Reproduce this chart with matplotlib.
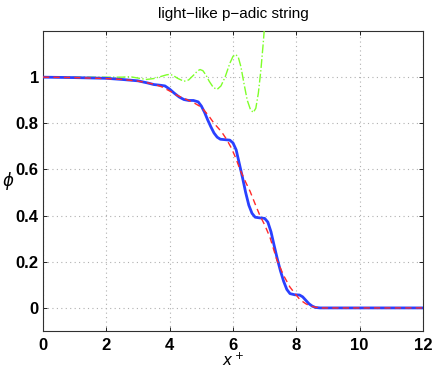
import matplotlib
matplotlib.use("Agg")
import matplotlib.pyplot as plt
from matplotlib.ticker import FuncFormatter

# ---- data ----
blue_x = [0, 1, 2, 2.5, 3, 3.3, 3.5, 3.7, 3.85, 4.0, 4.15, 4.3, 4.45, 4.6, 4.75, 4.9,
          5.0, 5.1, 5.2, 5.3, 5.4, 5.5, 5.6, 5.75, 5.9, 6.0, 6.1, 6.2, 6.3, 6.4, 6.5,
          6.6, 6.7, 6.85, 7.0, 7.1, 7.2, 7.3, 7.4, 7.5, 7.6, 7.7, 7.8, 7.95, 8.1, 8.2,
          8.3, 8.4, 8.5, 8.6, 8.75, 9, 10, 11, 12]
blue_y = [1.0, 0.998, 0.995, 0.99, 0.984, 0.975, 0.968, 0.965, 0.962, 0.948, 0.93, 0.914,
          0.903, 0.899, 0.899, 0.893, 0.875, 0.848, 0.815, 0.785, 0.758, 0.740, 0.731,
          0.729, 0.727, 0.715, 0.685, 0.625, 0.565, 0.5, 0.445, 0.41, 0.393, 0.39, 0.388,
          0.372, 0.33, 0.27, 0.212, 0.16, 0.115, 0.08, 0.062, 0.057, 0.056, 0.048, 0.033,
          0.018, 0.008, 0.002, 0.0, 0.0, 0.0, 0.0, 0.0]

red_x = [0, 1, 2, 2.5, 3, 3.5, 3.75, 4.0, 4.25, 4.5, 4.75, 5.0, 5.22, 5.4, 5.64, 5.8,
         5.96, 6.1, 6.22, 6.4, 6.54, 6.7, 6.85, 7.0, 7.17, 7.38, 7.6, 7.8, 8.0, 8.12,
         8.3, 8.43, 8.6, 8.8, 9, 12]
red_y = [1.0, 0.998, 0.994, 0.99, 0.983, 0.97, 0.958, 0.94, 0.92, 0.905, 0.89, 0.87,
         0.835, 0.80, 0.763, 0.73, 0.69, 0.645, 0.6, 0.545, 0.505, 0.45, 0.4, 0.36,
         0.305, 0.21, 0.14, 0.09, 0.055, 0.035, 0.018, 0.009, 0.003, 0.0, 0.0, 0.0]

green_x = [0, 1, 2, 2.5, 2.75, 3.0, 3.27, 3.5, 3.75, 3.9, 4.0, 4.1, 4.25, 4.45, 4.6, 4.75,
           4.88, 4.96, 5.05, 5.15, 5.25, 5.38, 5.5, 5.62, 5.75, 5.9, 6.0, 6.09, 6.17,
           6.25, 6.35, 6.45, 6.55, 6.64, 6.72, 6.8, 6.88, 6.95, 7.02, 7.1]
green_y = [1.0, 1.0, 1.0, 1.0, 1.002, 0.996, 0.99, 0.994, 1.004, 1.01, 1.012, 1.008,
           0.995, 0.982, 0.988, 1.008, 1.027, 1.033, 1.028, 1.008, 0.982, 0.955, 0.947,
           0.962, 1.0, 1.06, 1.09, 1.098, 1.085, 1.045, 0.97, 0.9, 0.86, 0.847, 0.865,
           0.93, 1.03, 1.14, 1.26, 1.4]

x_ticks = [0, 2, 4, 6, 8, 10, 12]
y_ticks = [0, 0.2, 0.4, 0.6, 0.8, 1.0]
title = "light\u2212like p\u2212adic string"

# ---- figure ----
fig = plt.figure(figsize=(4.36, 3.70), dpi=100)
ax = fig.add_axes([43/436, 39/370, 380/436, 300/370])

ax.plot(green_x, green_y, linestyle='-.', color='#7fff2a', linewidth=1.0, zorder=3)
ax.plot(blue_x, blue_y, linestyle='-', color='#2a40ff', linewidth=2.0, zorder=4)
ax.plot(red_x, red_y, linestyle=(0, (4.5, 3)), color='#ff2a2a', linewidth=1.0, zorder=5)

ax.set_xlim(0, 12)
ax.set_ylim(-0.1, 1.2)
ax.set_xticks(x_ticks)
ax.set_yticks(y_ticks)
ax.yaxis.set_major_formatter(FuncFormatter(lambda v, p: f"{v:g}"))
ax.grid(True, linestyle=(0, (1, 3)), color='#b0b0b0', linewidth=0.8)
ax.tick_params(direction='in', top=True, right=True, length=3, width=0.6,
               labelsize=12)
ax.tick_params(axis='y', pad=3)
ax.tick_params(axis='x', pad=5)
for lab in ax.get_xticklabels() + ax.get_yticklabels():
    lab.set_fontweight('bold')
    lab.set_family('Liberation Sans')
for s in ax.spines.values():
    s.set_linewidth(0.8)
    s.set_color('#303030')

ax.set_title(title, fontsize=11, family='Liberation Sans', pad=9)
ax.set_xlabel(r'$x^+$', fontsize=11, va='bottom', ha='center')
ax.xaxis.set_label_coords(0.5, -0.128)
ax.set_ylabel(r'$\phi$', fontsize=12, rotation=0, va='center', ha='center')
ax.yaxis.set_label_coords(-0.092, 0.5)

fig.savefig("out.png", dpi=100)
